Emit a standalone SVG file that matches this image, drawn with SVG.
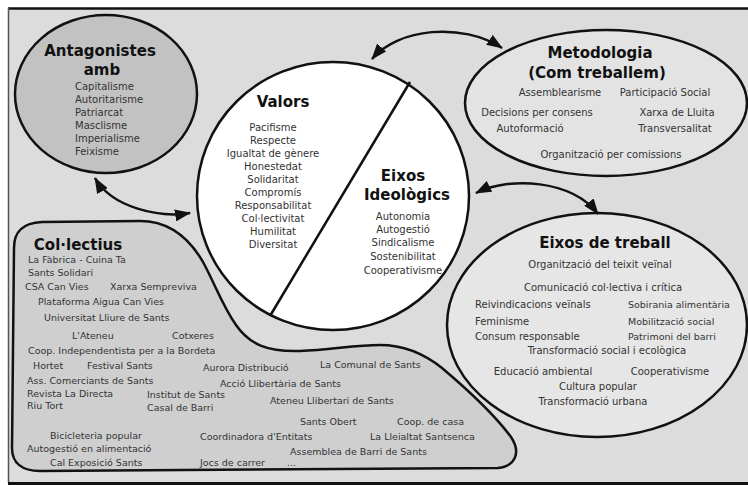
<svg xmlns="http://www.w3.org/2000/svg" width="748" height="485" viewBox="0 0 748 485">
<defs>
<style>
.t{font-family:"DejaVu Sans","Liberation Sans",sans-serif;font-weight:bold;font-size:15px;fill:#111;text-anchor:middle}
.b{font-family:"DejaVu Sans","Liberation Sans",sans-serif;font-size:10px;fill:#333}
.m{text-anchor:middle}
.s{font-size:9.5px}
.shape{stroke:#111;stroke-width:2.5}
.con{fill:none;stroke:#111;stroke-width:2.5}
</style>
<marker id="ah" markerUnits="userSpaceOnUse" markerWidth="16" markerHeight="12" refX="15" refY="6" orient="auto-start-reverse">
<path d="M0,0 L16,6 L0,12 Z" fill="#111"/>
</marker>
</defs>
<rect width="748" height="485" fill="#fff"/>
<rect x="8" y="8" width="742" height="475" fill="#dcdcdc"/>
<line x1="8" y1="8.5" x2="748" y2="8.5" stroke="#111" stroke-width="2.5"/>
<line x1="8.5" y1="8" x2="8.5" y2="483" stroke="#555" stroke-width="1.5"/>
<line x1="8" y1="483.5" x2="748" y2="483.5" stroke="#111" stroke-width="3"/>

<g id="eixos-treball">
<ellipse class="shape" cx="597" cy="325" rx="150" ry="112" fill="#e6e6e6"/>
<text class="t" x="605" y="248" font-size="14">Eixos de treball</text>
<text class="b m" x="600" y="268">Organització del teixit veïnal</text>
<text class="b m" x="603" y="291">Comunicació col·lectiva i crítica</text>
<text class="b" x="475" y="308">Reivindicacions veïnals</text>
<text class="b" x="475" y="325">Feminisme</text>
<text class="b" x="475" y="340">Consum responsable</text>
<text class="b s" x="628" y="308">Sobirania alimentària</text>
<text class="b s" x="628" y="325">Mobilització social</text>
<text class="b s" x="628" y="340">Patrimoni del barri</text>
<text class="b m" x="607" y="354">Transformació social i ecològica</text>
<text class="b m" x="543" y="375">Educació ambiental</text>
<text class="b m" x="670" y="375">Cooperativisme</text>
<text class="b m" x="598" y="390">Cultura popular</text>
<text class="b m" x="593" y="405">Transformació urbana</text>
</g>

<g id="collectius">
<path class="shape" fill="#cfcfcf" d="M14 248 C14 232 22 223 42 222 L140 221 C168 221 188 236 203 262 C215 284 222 305 236 325 C250 345 268 352 300 351 C330 350 355 345 380 345 C402 345 422 352 442 368 C468 390 497 418 511 437 C521 452 516 466 498 468 L40 471 C22 471 12 463 12 448 Z"/>
<text class="t" x="78" y="250">Col·lectius</text>
<text class="b s" x="28" y="263">La Fàbrica - Cuina Ta</text>
<text class="b s" x="28" y="276">Sants Solidari</text>
<text class="b s" x="25" y="290">CSA Can Vies</text>
<text class="b s" x="110" y="290">Xarxa Sempreviva</text>
<text class="b s" x="38" y="305">Plataforma Aigua Can Vies</text>
<text class="b s" x="44" y="321">Universitat Lliure de Sants</text>
<text class="b s" x="72" y="339">L'Ateneu</text>
<text class="b s" x="172" y="339">Cotxeres</text>
<text class="b s" x="28" y="354">Coop. Independentista per a la Bordeta</text>
<text class="b s" x="33" y="369">Hortet</text>
<text class="b s" x="87" y="369">Festival Sants</text>
<text class="b s" x="203" y="371">Aurora Distribució</text>
<text class="b s" x="320" y="368">La Comunal de Sants</text>
<text class="b s" x="27" y="384">Ass. Comerciants de Sants</text>
<text class="b s" x="220" y="387">Acció Llibertària de Sants</text>
<text class="b s" x="27" y="397">Revista La Directa</text>
<text class="b s" x="147" y="398">Institut de Sants</text>
<text class="b s" x="270" y="404">Ateneu Llibertari de Sants</text>
<text class="b s" x="27" y="409">Riu Tort</text>
<text class="b s" x="147" y="411">Casal de Barri</text>
<text class="b s" x="300" y="425">Sants Obert</text>
<text class="b s" x="397" y="425">Coop. de casa</text>
<text class="b s" x="50" y="439">Bicicleteria popular</text>
<text class="b s" x="200" y="440">Coordinadora d'Entitats</text>
<text class="b s" x="370" y="440">La Lleialtat Santsenca</text>
<text class="b s" x="27" y="452">Autogestió en alimentació</text>
<text class="b s" x="290" y="455">Assemblea de Barri de Sants</text>
<text class="b s" x="50" y="466">Cal Exposició Sants</text>
<text class="b s" x="200" y="466">Jocs de carrer</text>
<text class="b s" x="287" y="466">...</text>
</g>

<g id="antagonistes">
<ellipse class="shape" cx="106" cy="94" rx="91" ry="79" fill="#c2c2c2"/>
<text class="t" x="100" y="56">Antagonistes</text>
<text class="t" x="102" y="75">amb</text>
<text class="b" x="75" y="90">Capitalisme</text>
<text class="b" x="75" y="103">Autoritarisme</text>
<text class="b" x="75" y="116">Patriarcat</text>
<text class="b" x="75" y="129">Masclisme</text>
<text class="b" x="75" y="142">Imperialisme</text>
<text class="b" x="75" y="155">Feixisme</text>
</g>

<g id="valors-eixos">
<ellipse class="shape" cx="333" cy="196" rx="136" ry="134" fill="#fff"/>
<line class="shape" x1="410" y1="82" x2="270" y2="316"/>
<text class="t" x="283" y="107" font-size="14">Valors</text>
<text class="b m" x="273" y="131">Pacifisme</text>
<text class="b m" x="273" y="144">Respecte</text>
<text class="b m" x="273" y="157">Igualtat de gènere</text>
<text class="b m" x="273" y="170">Honestedat</text>
<text class="b m" x="273" y="183">Solidaritat</text>
<text class="b m" x="273" y="196">Compromís</text>
<text class="b m" x="273" y="209">Responsabilitat</text>
<text class="b m" x="273" y="222">Col·lectivitat</text>
<text class="b m" x="273" y="235">Humilitat</text>
<text class="b m" x="273" y="248">Diversitat</text>
<text class="t" x="403" y="181">Eixos</text>
<text class="t" x="407" y="200">Ideològics</text>
<text class="b m" x="403" y="220">Autonomia</text>
<text class="b m" x="403" y="233">Autogestió</text>
<text class="b m" x="403" y="246">Sindicalisme</text>
<text class="b m" x="403" y="260">Sostenibilitat</text>
<text class="b m" x="403" y="274">Cooperativisme</text>
</g>

<g id="metodologia">
<ellipse class="shape" cx="606" cy="103" rx="141" ry="73" fill="#e3e3e3"/>
<text class="t" x="600" y="58">Metodologia</text>
<text class="t" x="597" y="78">(Com treballem)</text>
<text class="b m" x="560" y="96">Assemblearisme</text>
<text class="b m" x="665" y="96">Participació Social</text>
<text class="b m" x="537" y="116">Decisions per consens</text>
<text class="b m" x="677" y="116">Xarxa de Lluita</text>
<text class="b m" x="530" y="132">Autoformació</text>
<text class="b m" x="675" y="132">Transversalitat</text>
<text class="b m" x="611" y="158">Organització per comissions</text>
</g>

<g id="connectors">
<path class="con" d="M95 178 C112 208 160 218 190 213" marker-start="url(#ah)" marker-end="url(#ah)"/>
<path class="con" d="M372 59 C398 28 462 22 502 48" marker-start="url(#ah)" marker-end="url(#ah)"/>
<path class="con" d="M476 193 C510 176 572 180 598 214" marker-start="url(#ah)" marker-end="url(#ah)"/>
</g>
</svg>
